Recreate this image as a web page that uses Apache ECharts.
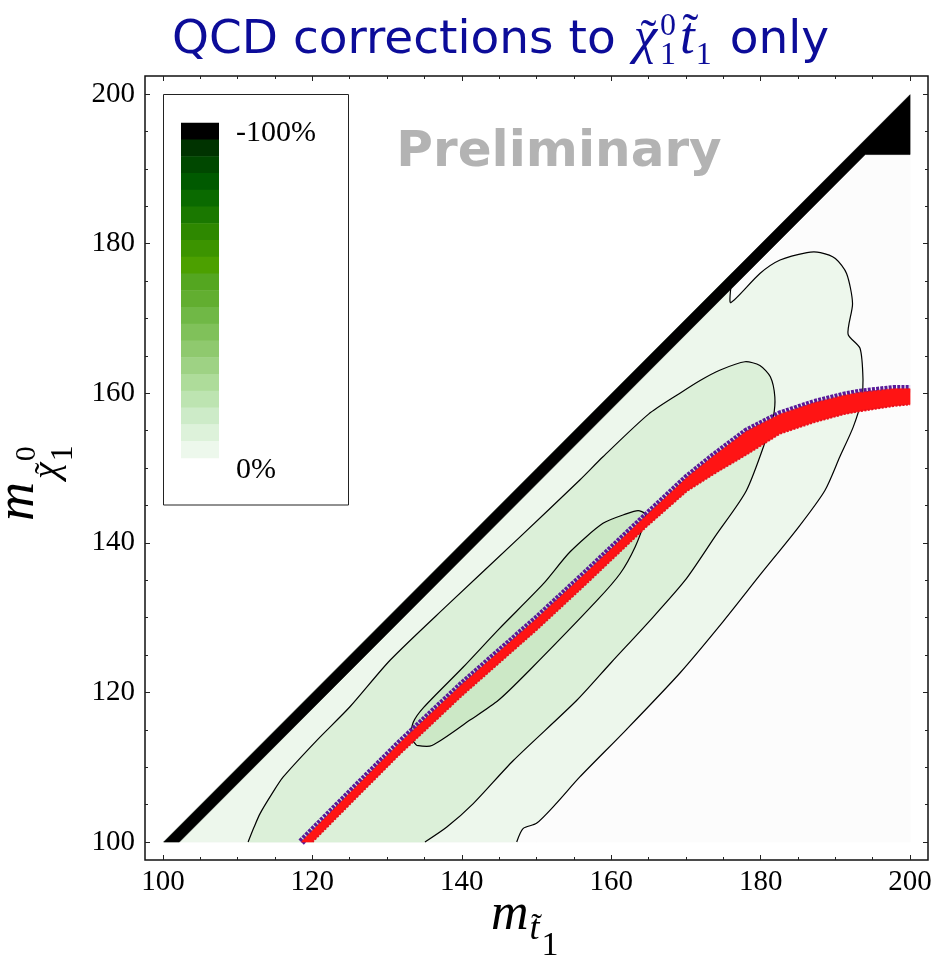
<!DOCTYPE html>
<html><head><meta charset="utf-8">
<script src="https://cdn.jsdelivr.net/npm/echarts@6/dist/echarts.min.js"></script>
<style>html,body{margin:0;padding:0;background:#fff}#chart{width:936px;height:960px}</style>
</head><body><div id="chart"></div>
<script>
// ---------- data ----------
const xTickLabels = [100, 120, 140, 160, 180, 200];
const xMinorTicks = [105, 110, 115, 125, 130, 135, 145, 150, 155, 165, 170, 175, 185, 190, 195];
const yTickLabels = [100, 120, 140, 160, 180, 200];
const yMinorTicks = [105, 110, 115, 125, 130, 135, 145, 150, 155, 165, 170, 175, 185, 190, 195];

// data domain (triangle below the diagonal)
const domain = [[100, 100], [200, 100], [200, 200]];

// -100% band along the threshold
const thresholdBand = [[100.1, 100], [102.2, 100], [194.0, 191.9], [200, 191.9], [200, 199.9]];

// outer contour (from bottom edge up to the threshold band)
const contourOuter = [[147.35, 100], [148.2, 101.8], [150.0, 102.5], [152.5, 105.0], [155.8, 108.7],
  [162.0, 115.0], [169.2, 122.6], [175.0, 129.5], [180.0, 135.8], [185.0, 142.0], [188.6, 147.0],
  [190.6, 151.5], [192.4, 155.5], [193.5, 159.1], [193.7, 161.8], [193.3, 166.0], [191.7, 167.9],
  [192.3, 172.0], [191.5, 176.0], [190.0, 178.0], [188.0, 178.8], [186.2, 178.8], [182.6, 177.8],
  [179.9, 176.0], [176.0, 172.1], [176.0, 174.0]];

// middle contour (from bottom edge, around the top, back to bottom edge)
const contourMiddle = [[111.4, 100], [112.2, 102.0], [113.0, 103.8], [114.5, 106.3], [116.1, 108.7],
  [120.6, 113.6], [125.0, 118.05], [130.4, 124.3], [138.0, 131.6], [147.8, 140.8], [155.8, 148.4],
  [158.9, 151.5], [165.0, 157.2], [169.2, 160.0], [171.9, 161.7], [174.6, 163.1], [177.9, 164.2],
  [179.9, 163.7], [181.3, 162.2], [181.9, 159.5], [181.7, 156.8], [181.0, 154.6], [178.1, 147.0],
  [174.0, 141.0], [169.9, 135.0], [165.0, 129.4], [160.0, 124.0], [155.4, 118.95], [146.9, 110.9],
  [141.5, 105.1], [138.0, 102.0], [135.07, 100]];

// inner closed contour
const contourInner = [[133.96, 112.93], [133.2, 114.0], [133.5, 116.0], [134.9, 118.0], [140.2, 123.4],
  [145.0, 128.5], [150.9, 134.5], [154.5, 138.8], [158.9, 142.6], [162.1, 143.9], [163.6, 144.3],
  [164.5, 143.9], [164.5, 143.0], [163.2, 139.45], [161.2, 135.9], [158.1, 132.3], [149.1, 123.0],
  [144.9, 118.95], [141.1, 116.3], [136.0, 112.9], [133.96, 112.93]];

// red / purple point band
const relicUpper = [[118.5, 100.0], [125, 106.55], [131.7, 113.25], [140, 121.05], [150, 129.85],
  [156.7, 136.05], [164.7, 143.65], [170.1, 148.7], [173.7, 151.6], [178.1, 154.9], [182.6, 157.2],
  [187.1, 158.7], [191.1, 159.7], [193.3, 160.1], [197.8, 160.6], [200, 160.6]];
const relicLower = [[120.0, 100.0], [125, 105.05], [131.7, 111.75], [140, 119.55], [150, 128.35],
  [156.7, 134.55], [164.7, 142.15], [170.1, 146.9], [173.7, 149.2], [178.1, 151.8], [182.6, 154.6],
  [187.1, 156.1], [191.1, 157.2], [193.3, 157.6], [197.8, 158.3], [200, 158.5]];

// legend steps (top = -100%, bottom = 0%)
const legendColors = ['#000000', '#003300', '#004800', '#005a00', '#0a6a00', '#1a7800', '#2e8800',
  '#3c9400', '#4ca000', '#54a620', '#62ae30', '#70b846', '#80c15a', '#8fc96e', '#9ed284', '#aedc9a',
  '#bde4b1', '#cdebc8', '#ddf2da', '#edf8ec'];
const legendLabels = ['-100%', '0%'];

// ---------- chart ----------
const SERIF = '"Liberation Serif", "DejaVu Serif", serif';
const SANS = '"DejaVu Sans", sans-serif';
const BLUE = '#0c0c99';

function area(name, pts, color, z) {
  return {
    type: 'custom', name, z, silent: true, xAxisIndex: 0, yAxisIndex: 0,
    data: [pts[0]],
    renderItem(params, api) {
      return { type: 'polygon', shape: { points: pts.map(p => api.coord(p)) },
        style: { fill: color, stroke: color, lineWidth: 0.6 } };
    }
  };
}
function curve(name, pts, color, width, z, dash, smooth) {
  return {
    type: 'custom', name, z, silent: true, xAxisIndex: 0, yAxisIndex: 0,
    data: [pts[0]],
    renderItem(params, api) {
      return { type: 'polyline', shape: { points: pts.map(p => api.coord(p)), smooth: smooth || 0 },
        style: { fill: null, stroke: color, lineWidth: width, lineDash: dash || null, lineJoin: 'round' } };
    }
  };
}
function xAx(pos, ticks, len, labels) {
  return {
    type: 'value', position: pos, min: 97.6, max: 202.4,
    axisLine: { show: false }, splitLine: { show: false },
    axisTick: { show: true, inside: true, length: len, customValues: ticks, lineStyle: { color: '#222', width: 1 } },
    axisLabel: labels ? { show: true, customValues: ticks, fontFamily: SERIF, fontSize: 29, color: '#000', margin: 8 } : { show: false }
  };
}
function yAx(pos, ticks, len, labels) {
  return {
    type: 'value', position: pos, min: 97.6, max: 202.4,
    axisLine: { show: false }, splitLine: { show: false },
    axisTick: { show: true, inside: true, length: len, customValues: ticks, lineStyle: { color: '#222', width: 1 } },
    axisLabel: labels ? { show: true, customValues: ticks, fontFamily: SERIF, fontSize: 29, color: '#000', margin: 10 } : { show: false }
  };
}

// text helpers
const mctx = document.createElement('canvas').getContext('2d');
function tw(text, size, family, style, weight) {
  mctx.font = `${style || 'normal'} ${weight || 'normal'} ${size}px ${family}`;
  return mctx.measureText(text).width;
}
function txt(text, x, base, size, family, opts) {
  opts = opts || {};
  return {
    type: 'text', x, y: base - 0.34 * size, silent: true, z: 100,
    style: { text, fontSize: size, fontFamily: family, fontStyle: opts.style || 'normal',
      fontWeight: opts.weight || 'normal', fill: opts.color || '#000', align: opts.align || 'left',
      verticalAlign: 'middle' }
  };
}
// italic letter with a tilde accent on top
function tilded(out, ch, x, base, size, opts) {
  const w = tw(ch, size, SERIF, 'italic');
  out.push(txt(ch, x, base, size, SERIF, Object.assign({ style: 'italic' }, opts)));
  out.push(txt('\u02DC', x + w * 0.5 + size * 0.06, base + size * (opts.tdy || 0), size * 0.9, SERIF,
    Object.assign({}, opts, { align: 'center', style: 'normal' })));
  return w;
}

const graphics = [];
// title
(function () {
  let x = 172; const b = 57; const S = 47; const M = 53; const s = 32;
  const o = { color: BLUE };
  const p1 = 'QCD corrections to ';
  graphics.push(txt(p1, x, b, S, SANS, o)); x += tw(p1, S, SANS) + 3;
  x += tilded(graphics, 'χ', x, b, M, o) + 3;
  graphics.push(txt('0', x, b - 20, s, SERIF, o));
  graphics.push(txt('1', x, b + 9, s, SERIF, o)); x += tw('0', s, SERIF) + 4;
  x += tilded(graphics, 't', x, b, M, Object.assign({ tdy: -0.12 }, o)) + 1;
  graphics.push(txt('1', x, b + 9, s, SERIF, o)); x += tw('1', s, SERIF) + 3;
  graphics.push(txt(' only', x, b, S, SANS, o));
})();
// x axis title
(function () {
  let x = 491; const b = 933;
  graphics.push(txt('m', x, b, 52, SERIF, { style: 'italic' })); x += tw('m', 52, SERIF, 'italic') + 1;
  x += tilded(graphics, 't', x, b + 9, 36, { tdy: -0.12 }) + 2;
  graphics.push(txt('1', x, b + 25, 34, SERIF));
})();
// y axis title (rotated)
(function () {
  const ch = [];
  let x = 0;
  ch.push(txt('m', x, 0, 54, SERIF, { style: 'italic' })); x += tw('m', 54, SERIF, 'italic') + 3;
  x += tilded(ch, 'χ', x, 24, 38, {}) + 1;
  ch.push(txt('0', x, 0, 30, SERIF));
  ch.push(txt('1', x, 37, 32, SERIF));
  graphics.push({ type: 'group', x: 37, y: 521, rotation: Math.PI / 2, children: ch });
})();
// watermark
graphics.push(txt('Preliminary', 559, 170, 50, SANS, { color: '#b3b3b3', weight: 'bold', align: 'center' }));
// legend box
graphics.push({ type: 'rect', z: 90, silent: true, shape: { x: 163.5, y: 94.5, width: 185, height: 410.5 },
  style: { fill: '#fff', stroke: '#222', lineWidth: 1 } });
legendColors.forEach((c, i) => {
  graphics.push({ type: 'rect', z: 91, silent: true,
    shape: { x: 181, y: 122.7 + i * 16.75, width: 38, height: 17.2 }, style: { fill: c } });
});
graphics.push(txt(legendLabels[0], 236, 143, 30, SERIF));
graphics.push(txt(legendLabels[1], 236, 480, 30, SERIF));

const lightPoly = [[100, 100], [176.2, 176.2]].concat(contourOuter.slice().reverse());
const SM = 0.25;

const option = {
  animation: false,
  grid: { left: 145, right: 8, top: 76, bottom: 100, show: true, borderColor: '#111', borderWidth: 1.5,
    backgroundColor: '#fff', containLabel: false, outerBoundsMode: 'none' },
  xAxis: [xAx('bottom', xTickLabels, 5, true), xAx('bottom', xMinorTicks, 3, false),
          xAx('top', xTickLabels, 5, false), xAx('top', xMinorTicks, 3, false)],
  yAxis: [yAx('left', yTickLabels, 5, true), yAx('left', yMinorTicks, 3, false),
          yAx('right', yTickLabels, 5, false), yAx('right', yMinorTicks, 3, false)],
  series: [
    area('domain', domain, '#fcfcfc', 1),
    area('level1', lightPoly, '#edf7ec', 2),
    area('level2', contourMiddle, '#dcf0d9', 3),
    area('level3', contourInner, '#cce8c6', 4),
    curve('c1', contourOuter, '#000', 1.2, 5, null, SM),
    curve('c2', contourMiddle, '#000', 1.2, 5, null, SM),
    curve('c3', contourInner, '#000', 1.2, 5, null, SM),
    area('threshold', thresholdBand, '#000', 6),
    curve('relicTop', relicUpper, '#5a1a9a', 7.5, 7, [3, 1.2], 0),
    area('relic', relicUpper.concat(relicLower.slice().reverse()), '#ff1414', 8),
    curve('relicFill', relicLower, '#e8101c', 2, 9, [2, 1.5], 0),
    curve('relicMid', relicUpper, '#8a1a6a', 1, 9, [1.5, 3], 0)
  ],
  graphic: graphics
};
echarts.init(document.getElementById('chart'), null, { renderer: 'canvas' }).setOption(option);
</script>
</body></html>
